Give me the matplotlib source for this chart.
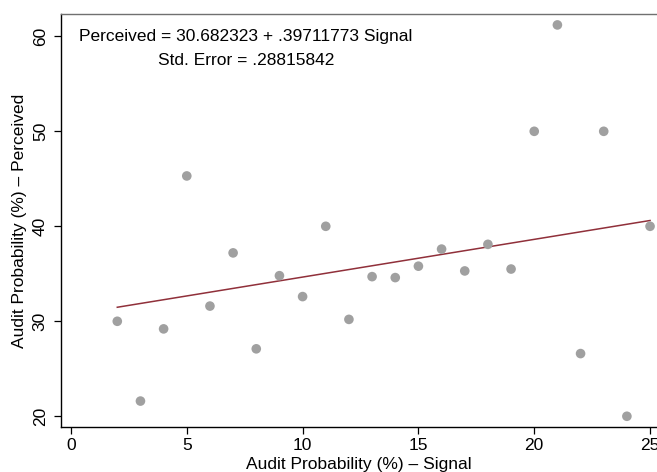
import matplotlib
matplotlib.use("Agg")
import matplotlib.pyplot as plt
import numpy as np

plt.rcParams['font.family'] = ['Liberation Sans', 'DejaVu Sans']

# Audit probability signal (x) and perceived probability (y)
signal = [2, 3, 4, 5, 6, 7, 8, 9, 10, 11, 12, 13, 14, 15, 16, 17, 18, 19,
          20, 21, 22, 23, 24, 25]
perceived = [30.0, 21.6, 29.2, 45.3, 31.6, 37.2, 27.1, 34.8, 32.6, 40.0,
             30.2, 34.7, 34.6, 35.8, 37.6, 35.3, 38.1, 35.5, 50.0, 61.2,
             26.6, 50.0, 20.0, 40.0]

# Fitted regression line
intercept = 30.682323
slope = 0.39711773
std_error = 0.28815842

x_ticks = [0, 5, 10, 15, 20, 25]
y_ticks = [20, 30, 40, 50, 60]

fig = plt.figure(figsize=(6.57, 4.72), dpi=100)
ax = fig.add_axes([61 / 657, 45 / 472, 596 / 657, 413 / 472])

ax.scatter(signal, perceived, s=48, color='#a0a0a0', edgecolors='none', zorder=3)

xf = np.array([min(signal), max(signal)])
ax.plot(xf, intercept + slope * xf, color='#90303a', linewidth=1.1, zorder=2)

ax.set_xlim(-0.43, 25.3)
ax.set_ylim(18.87, 62.35)
ax.set_xticks(x_ticks)
ax.set_yticks(y_ticks)
ax.set_xticklabels([str(t) for t in x_ticks])
ax.set_yticklabels([str(t) for t in y_ticks], rotation=90, va='center')

ax.tick_params(axis='x', length=5, width=0.9, pad=3, labelsize=12.5)
ax.tick_params(axis='y', length=5, width=0.9, pad=4.5, labelsize=12.5)

for side in ('left', 'bottom'):
    ax.spines[side].set_color('black')
    ax.spines[side].set_linewidth(1.0)
ax.spines['top'].set_color('#707070')
ax.spines['top'].set_linewidth(1.0)
ax.spines['right'].set_visible(False)

ax.set_xlabel('Audit Probability (%) \u2013 Signal', fontsize=12.5, labelpad=3)
ax.set_ylabel('Audit Probability (%) \u2013 Perceived', fontsize=12.5, labelpad=4)

ax.text(0.345, 59.95,
        f'Perceived = {intercept:.6f} + {str(f"{slope:.8f}")[1:]} Signal',
        fontsize=12.5, ha='left', va='center')
ax.text(3.77, 57.45, f'Std. Error = {str(f"{std_error:.8f}")[1:]}',
        fontsize=12.5, ha='left', va='center')

fig.savefig('out.png', dpi=100)
